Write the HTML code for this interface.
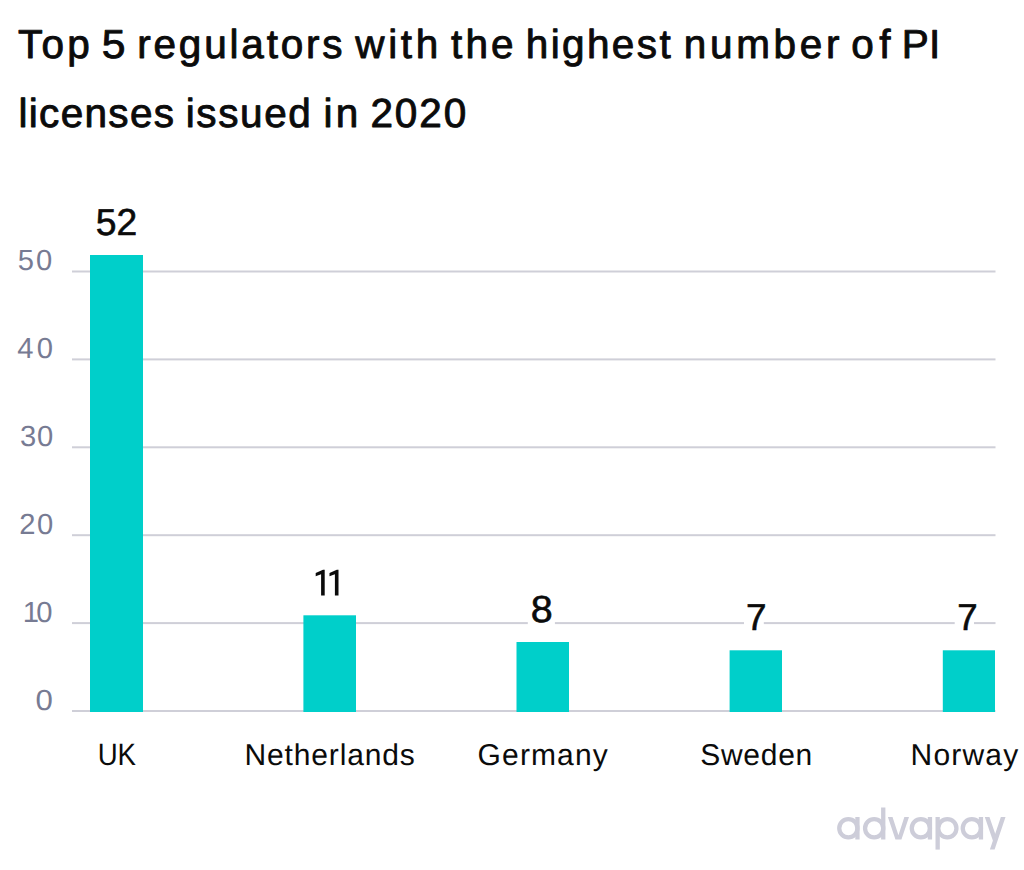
<!DOCTYPE html>
<html>
<head>
<meta charset="utf-8">
<style>
html,body{margin:0;padding:0;background:#fff;}
body{width:1024px;height:870px;overflow:hidden;}
svg{display:block;}
text{font-family:"Liberation Sans", sans-serif;text-rendering:geometricPrecision;}
</style>
</head>
<body>
<svg width="1024" height="870" viewBox="0 0 1024 870">
<rect width="1024" height="870" fill="#fff"/>
<g>
<text transform="translate(18.04 58.15) scale(1.0000 1)" letter-spacing="3.26" font-size="40.5" fill="#0b0b0b" stroke="#0b0b0b" stroke-width="0.9" stroke-linejoin="round">Top</text>
<text transform="translate(101.77 58.15) scale(1.0528 1)" font-size="40.5" fill="#0b0b0b" stroke="#0b0b0b" stroke-width="0.9" stroke-linejoin="round">5</text>
<text transform="translate(137.22 58.15) scale(1.0000 1)" letter-spacing="2.81" font-size="40.5" fill="#0b0b0b" stroke="#0b0b0b" stroke-width="0.9" stroke-linejoin="round">regulators</text>
<text transform="translate(355.35 58.15) scale(1.0000 1)" letter-spacing="3.61" font-size="40.5" fill="#0b0b0b" stroke="#0b0b0b" stroke-width="0.9" stroke-linejoin="round">with</text>
<text transform="translate(451.04 58.15) scale(1.0000 1)" letter-spacing="3.12" font-size="40.5" fill="#0b0b0b" stroke="#0b0b0b" stroke-width="0.9" stroke-linejoin="round">the</text>
<text transform="translate(525.82 58.15) scale(1.0000 1)" letter-spacing="2.37" font-size="40.5" fill="#0b0b0b" stroke="#0b0b0b" stroke-width="0.9" stroke-linejoin="round">highest</text>
<text transform="translate(683.72 58.15) scale(1.0000 1)" letter-spacing="3.69" font-size="40.5" fill="#0b0b0b" stroke="#0b0b0b" stroke-width="0.9" stroke-linejoin="round">number</text>
<text transform="translate(851.33 58.15) scale(1.0000 1)" letter-spacing="5.40" font-size="40.5" fill="#0b0b0b" stroke="#0b0b0b" stroke-width="0.9" stroke-linejoin="round">of</text>
<text transform="translate(901.71 58.15) scale(1.0000 1)" letter-spacing="0.31" font-size="40.5" fill="#0b0b0b" stroke="#0b0b0b" stroke-width="0.9" stroke-linejoin="round">PI</text>
<text transform="translate(18.42 126.65) scale(1.0000 1)" letter-spacing="1.32" font-size="40.5" fill="#0b0b0b" stroke="#0b0b0b" stroke-width="0.9" stroke-linejoin="round">licenses</text>
<text transform="translate(185.72 126.65) scale(1.0000 1)" letter-spacing="1.62" font-size="40.5" fill="#0b0b0b" stroke="#0b0b0b" stroke-width="0.9" stroke-linejoin="round">issued</text>
<text transform="translate(323.42 126.65) scale(1.0000 1)" letter-spacing="3.38" font-size="40.5" fill="#0b0b0b" stroke="#0b0b0b" stroke-width="0.9" stroke-linejoin="round">in</text>
<text transform="translate(370.43 126.65) scale(1.0000 1)" letter-spacing="1.91" font-size="40.5" fill="#0b0b0b" stroke="#0b0b0b" stroke-width="0.9" stroke-linejoin="round">2020</text>
</g>
<g fill="#cfcfd8">
<rect x="72" y="270.5" width="923.5" height="2"/>
<rect x="72" y="358.4" width="923.5" height="2"/>
<rect x="72" y="446.3" width="923.5" height="2"/>
<rect x="72" y="534.2" width="923.5" height="2"/>
<rect x="72" y="622.1" width="923.5" height="2"/>
<rect x="72" y="710.0" width="923.5" height="2"/>
</g>
<g>
<text transform="translate(17.73 270.30) scale(1.0000 1)" letter-spacing="2.15" font-size="29.2" fill="#777b93">50</text>
<text transform="translate(17.24 358.20) scale(1.0000 1)" letter-spacing="3.24" font-size="29.2" fill="#777b93">40</text>
<text transform="translate(20.01 446.20) scale(1.0000 1)" letter-spacing="0.68" font-size="29.2" fill="#777b93">30</text>
<text transform="translate(19.34 534.10) scale(1.0000 1)" letter-spacing="1.34" font-size="29.2" fill="#777b93">20</text>
<text transform="translate(22.71 622.00) scale(1.0000 1)" letter-spacing="-2.63" font-size="29.2" fill="#777b93">10</text>
<text transform="translate(35.55 709.90) scale(1.0686 1)" font-size="29.2" fill="#777b93">0</text>
</g>
<g fill="#00cfca">
<rect x="90" y="255" width="53.0" height="457.0"/>
<rect x="303.4" y="615.3" width="52.6" height="96.7"/>
<rect x="516.5" y="642" width="52.5" height="70.0"/>
<rect x="729.6" y="650.3" width="52.4" height="61.7"/>
<rect x="942.8" y="650.3" width="52.2" height="61.7"/>
</g>
<g fill="#fff">
<rect x="527.8" y="619" width="27.1" height="8"/>
<rect x="744" y="619" width="19.8" height="8"/>
<rect x="954.7" y="619" width="19.3" height="8"/>
</g>
<g>
<text transform="translate(95.81 234.80) scale(0.9937 1)" font-size="37.5" fill="#0b0b0b" stroke="#0b0b0b" stroke-width="0.6" stroke-linejoin="round">52</text>
<text transform="translate(530.64 621.70) scale(1.0535 1)" font-size="37.5" fill="#0b0b0b" stroke="#0b0b0b" stroke-width="0.6" stroke-linejoin="round">8</text>
<text transform="translate(746.06 630.30) scale(0.9847 1)" font-size="37.5" fill="#0b0b0b" stroke="#0b0b0b" stroke-width="0.6" stroke-linejoin="round">7</text>
<text transform="translate(957.17 630.10) scale(0.9790 1)" font-size="37.5" fill="#0b0b0b" stroke="#0b0b0b" stroke-width="0.6" stroke-linejoin="round">7</text>
<polygon fill="#0b0b0b" points="324.70,569.7 324.70,595.4 321.10,595.4 321.10,574.3 315.70,576.3 315.70,572.9 323.00,569.7"/><polygon fill="#0b0b0b" points="338.50,569.7 338.50,595.4 334.90,595.4 334.90,574.3 329.50,576.3 329.50,572.9 336.80,569.7"/>
</g>
<g>
<text transform="translate(97.66 764.50) scale(0.8908 1)" font-size="31.0" fill="#0b0b0b">UK</text>
<text transform="translate(244.53 764.50) scale(1.0000 1)" letter-spacing="0.85" font-size="30.0" fill="#0b0b0b">Netherlands</text>
<text transform="translate(477.60 764.50) scale(1.0000 1)" letter-spacing="1.13" font-size="30.0" fill="#0b0b0b">Germany</text>
<text transform="translate(700.25 764.50) scale(1.0000 1)" letter-spacing="0.71" font-size="30.0" fill="#0b0b0b">Sweden</text>
<text transform="translate(910.62 764.50) scale(1.0000 1)" letter-spacing="1.17" font-size="30.0" fill="#0b0b0b">Norway</text>
</g>
<g>
<ellipse cx="848.35" cy="828.25" rx="9.10" ry="9.10" fill="none" stroke="#cdcdd9" stroke-width="4.3"/><rect x="855.30" y="817.0" width="4.3" height="22.5" fill="#cdcdd9"/><ellipse cx="874.15" cy="828.25" rx="9.10" ry="9.10" fill="none" stroke="#cdcdd9" stroke-width="4.3"/><rect x="881.10" y="807.5" width="4.3" height="32.0" fill="#cdcdd9"/><polygon fill="#cdcdd9" points="887.9,817.0 892.54,817.0 898.45,835.20 904.36,817.0 909.0,817.0 901.45,839.5 895.45,839.5"/><ellipse cx="920.85" cy="828.25" rx="9.10" ry="9.10" fill="none" stroke="#cdcdd9" stroke-width="4.3"/><rect x="927.80" y="817.0" width="4.3" height="22.5" fill="#cdcdd9"/><ellipse cx="947.35" cy="828.25" rx="9.10" ry="9.10" fill="none" stroke="#cdcdd9" stroke-width="4.3"/><rect x="935.5" y="817.0" width="4.3" height="32.60000000000002" fill="#cdcdd9"/><ellipse cx="971.85" cy="828.25" rx="9.10" ry="9.10" fill="none" stroke="#cdcdd9" stroke-width="4.3"/><rect x="978.80" y="817.0" width="4.3" height="22.5" fill="#cdcdd9"/><polygon fill="#cdcdd9" points="984.8,817.0 989.44,817.0 996.85,838.50 992.85,840.50"/><polygon fill="#cdcdd9" points="1000.86,817.0 1005.5,817.0 994.6,849.6 989.9,849.6"/>
</g>
</svg>
</body>
</html>
